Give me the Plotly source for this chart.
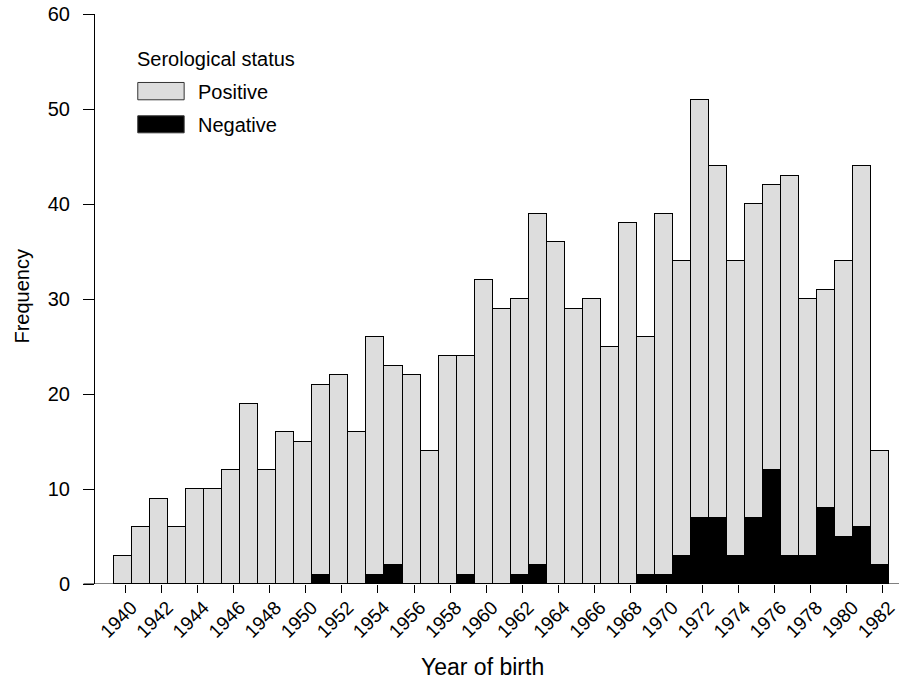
import plotly.graph_objects as go

# ---- data ----
years = list(range(1940, 1983))
negative = [0, 0, 0, 0, 0, 0, 0, 0, 0, 0,
            0, 1, 0, 0, 1, 2, 0, 0, 0, 1,
            0, 0, 1, 2, 0, 0, 0, 0, 0, 1,
            1, 3, 7, 7, 3, 7, 12, 3, 3, 8,
            5, 6, 2]
total = [3, 6, 9, 6, 10, 10, 12, 19, 12, 16,
         15, 21, 22, 16, 26, 23, 22, 14, 24, 24,
         32, 29, 30, 39, 36, 29, 30, 25, 38, 26,
         39, 34, 51, 44, 34, 40, 42, 43, 30, 31,
         34, 44, 14]
positive = [t - n for t, n in zip(total, negative)]
tick_years = list(range(1940, 1983, 2))
tick_labels = [str(y) for y in tick_years]
y_ticks = [0, 10, 20, 30, 40, 50, 60]

FONT = "Liberation Sans, Arial, Helvetica, sans-serif"
GRAY = "#dddddd"

W, H = 899, 679
L, R, T, B = 94.5, 0, 14.3, 95.3
pw, ph = W - L - R, H - T - B


def px(xp):
    return (xp - L) / pw


def py(yp):
    return (H - B - yp) / ph


fig = go.Figure()
fig.add_trace(go.Bar(x=years, y=negative, name="Negative",
                     marker=dict(color="black", line=dict(color="black", width=1)),
                     width=1, offset=-0.64))
fig.add_trace(go.Bar(x=years, y=positive, name="Positive",
                     marker=dict(color=GRAY, line=dict(color="black", width=1)),
                     width=1, offset=-0.64))

shapes = [
    # baseline
    dict(type="line", xref="paper", yref="y", x0=px(83), x1=1, y0=0, y1=0,
         line=dict(color="black", width=1)),
    # legend boxes
    dict(type="rect", xref="paper", yref="paper", x0=px(137.3), x1=px(183.7),
         y0=py(100), y1=py(82.7), fillcolor=GRAY, line=dict(color="#333333", width=1)),
    dict(type="rect", xref="paper", yref="paper", x0=px(137.3), x1=px(183.7),
         y0=py(133), y1=py(116), fillcolor="black", line=dict(color="#333333", width=1)),
]

annotations = [
    dict(text="Serological status", xref="paper", yref="paper", x=px(135), y=py(59),
         xanchor="left", yanchor="middle", showarrow=False, font=dict(size=20)),
    dict(text="Positive", xref="paper", yref="paper", x=px(195.5), y=py(92),
         xanchor="left", yanchor="middle", showarrow=False, font=dict(size=20)),
    dict(text="Negative", xref="paper", yref="paper", x=px(195.5), y=py(125.5),
         xanchor="left", yanchor="middle", showarrow=False, font=dict(size=20)),
    dict(text="Frequency", xref="paper", yref="paper", x=px(21), y=py(296),
         xanchor="center", yanchor="middle", textangle=-90, showarrow=False,
         font=dict(size=20)),
    dict(text="Year of birth", xref="paper", yref="paper", x=px(482), y=py(667),
         xanchor="center", yanchor="middle", showarrow=False, font=dict(size=23)),
]

fig.update_layout(
    width=W, height=H,
    margin=dict(l=L, r=R, t=T, b=B, pad=0),
    barmode="stack", bargap=0,
    plot_bgcolor="white", paper_bgcolor="white",
    showlegend=False,
    font=dict(family=FONT, size=19, color="black"),
    shapes=shapes, annotations=annotations,
    xaxis=dict(range=[1938.31, 1982.89], tickmode="array", tickvals=tick_years,
               ticktext=tick_labels, tickangle=-45, ticks="outside", ticklen=8,
               tickwidth=1, tickcolor="black", showline=False, showgrid=False,
               zeroline=False, tickfont=dict(size=19), ticklabelstandoff=-4,
               ticklabelshift=6, ticklabeloverflow="allow"),
    yaxis=dict(range=[0, 60], tickmode="array", tickvals=y_ticks, ticks="outside",
               ticklen=11, tickwidth=1, tickcolor="black", showline=True,
               linecolor="black", linewidth=1, showgrid=False, zeroline=False,
               ticklabelstandoff=9, tickfont=dict(size=20)),
)

fig.write_html("out.html", config={"displayModeBar": False},
               post_script="document.body.style.margin='0';document.body.style.padding='0';document.body.style.overflow='hidden';")
